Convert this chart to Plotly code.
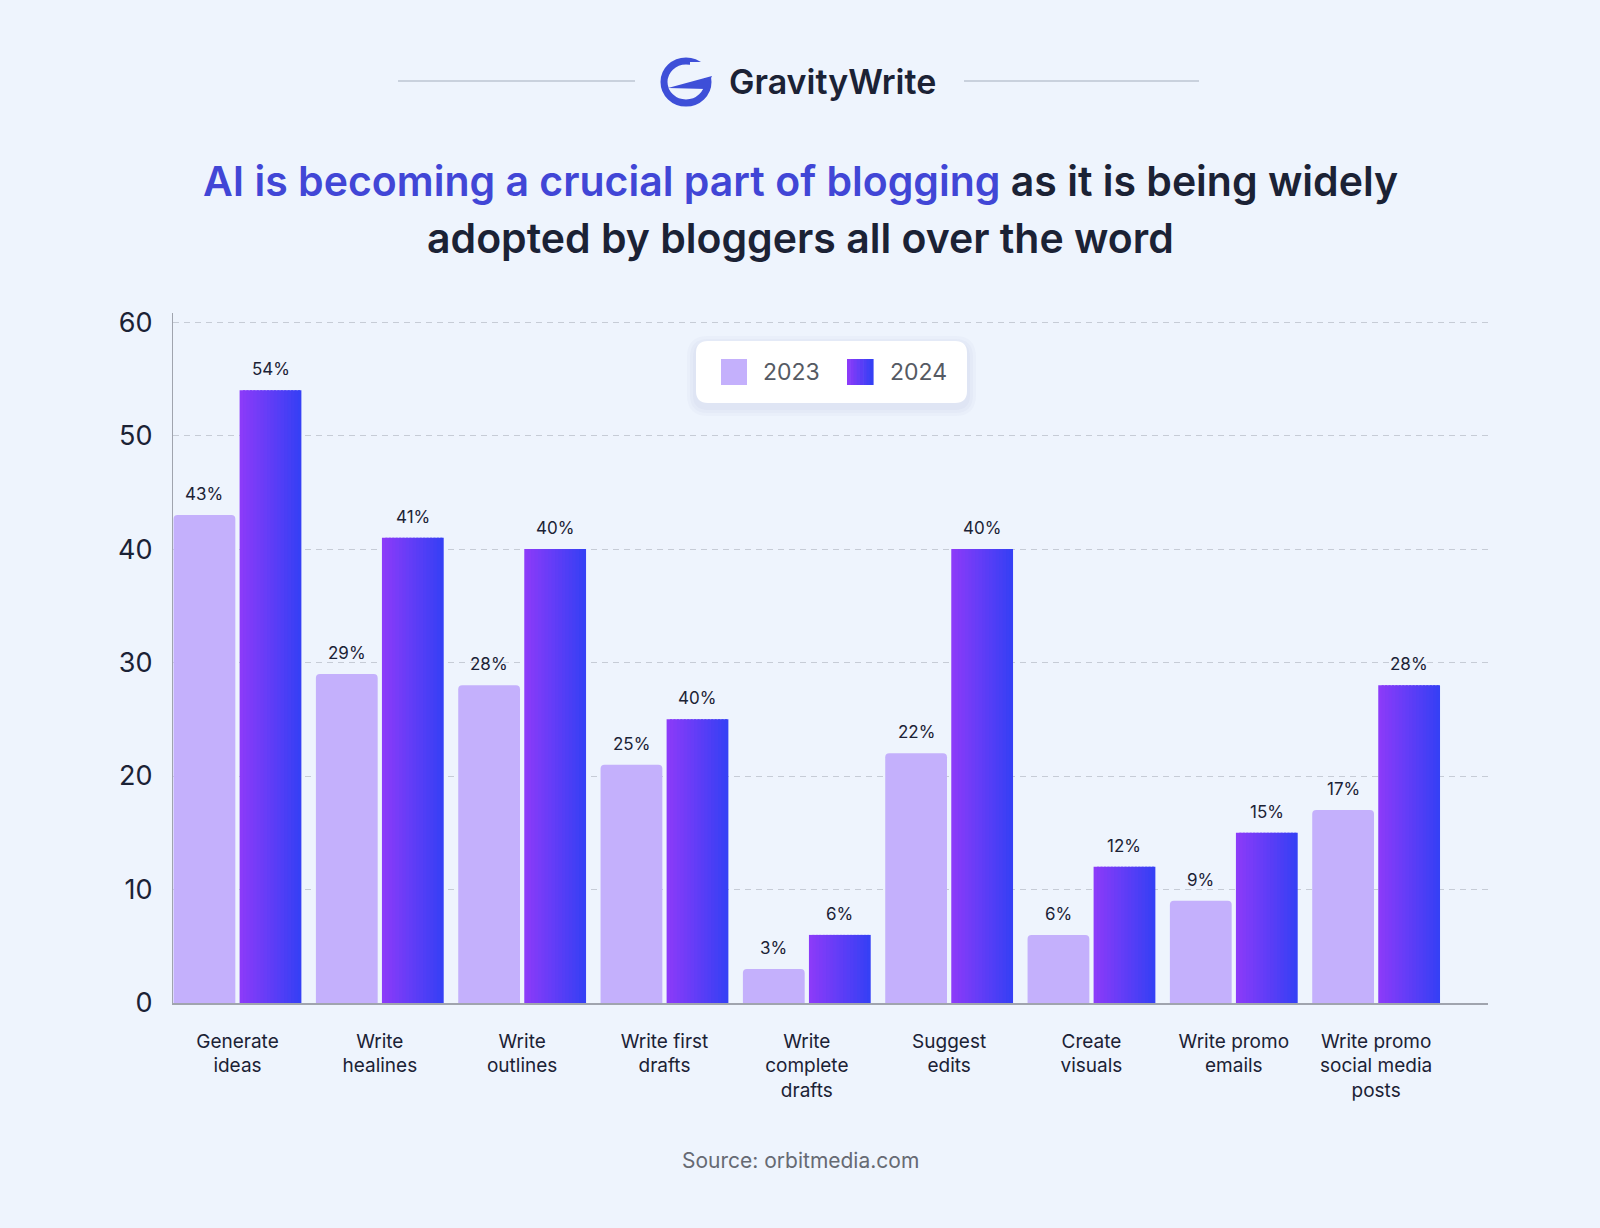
import numpy as np
import plotly.graph_objects as go

# data
categories = [
    "Generate<br>ideas",
    "Write<br>healines",
    "Write<br>outlines",
    "Write first<br>drafts",
    "Write<br>complete<br>drafts",
    "Suggest<br>edits",
    "Create<br>visuals",
    "Write promo<br>emails",
    "Write promo<br>social media<br>posts",
]
values_2023 = [43, 29, 28, 21, 3, 22, 6, 9, 17]
values_2024 = [54, 41, 40, 25, 6, 40, 12, 15, 28]
labels_2023 = ["43%", "29%", "28%", "25%", "3%", "22%", "6%", "9%", "17%"]
labels_2024 = ["54%", "41%", "40%", "40%", "6%", "40%", "12%", "15%", "28%"]
y_ticks = [0, 10, 20, 30, 40, 50, 60]
series_names = ["2023", "2024"]

W, H = 1600, 1228
L, R, T, B = 173, 112, 313, 225
BG = "#eef4fd"
DARK = "#1b2235"
LIGHT = "#c4b0fc"
GRAD_L = np.array([0x8b, 0x3b, 0xf9])
GRAD_R = np.array([0x36, 0x40, 0xf5])
FONT = "Inter"


def px(x):
    return (x - L) / (W - L - R)


def py(y):
    return (H - B - y) / (H - T - B)


def grad(t):
    c = (GRAD_L + (GRAD_R - GRAD_L) * t).astype(int)
    return "rgb(%d,%d,%d)" % tuple(c)


idx = np.arange(len(categories))
bw = 0.434
off23 = -0.449
off24 = 0.015

fig = go.Figure()
fig.add_trace(go.Bar(
    x=idx, y=values_2023, name=series_names[0], offset=off23, width=bw,
    marker=dict(color=LIGHT, cornerradius=4, line_width=0), showlegend=False,
))

# 2024 bars: vertical strips to fake the left-to-right gradient
n_strips = 18
sw = bw / n_strips
for k in range(n_strips):
    fig.add_trace(go.Bar(
        x=idx, y=values_2024, name=series_names[1],
        offset=off24 + k * sw, width=sw * (1.6 if k < n_strips - 1 else 1.0),
        marker=dict(color=grad(k / (n_strips - 1)), line_width=0),
        showlegend=False, hoverinfo="skip" if k else None,
    ))

# value labels above bars
annotations = []
for i in idx:
    for val, lab, off in [(values_2023[i], labels_2023[i], off23), (values_2024[i], labels_2024[i], off24)]:
        annotations.append(dict(
            x=i + off + bw / 2, y=val, xref="x", yref="y", text=lab, showarrow=False,
            yshift=21, yanchor="middle", font=dict(family=FONT, size=17, color=DARK),
        ))

# title
annotations.append(dict(
    x=px(800), y=py(181), xref="paper", yref="paper", showarrow=False, yanchor="middle",
    text="<span style='color:#4146d6'>AI is becoming a crucial part of blogging</span> as it is being widely",
    font=dict(family=FONT, size=41, color=DARK, weight=600),
))
annotations.append(dict(
    x=px(800), y=py(238), xref="paper", yref="paper", showarrow=False, yanchor="middle",
    text="adopted by bloggers all over the word",
    font=dict(family=FONT, size=41, color=DARK, weight=600),
))
# brand name
annotations.append(dict(
    x=px(727), y=py(82), xref="paper", yref="paper", showarrow=False,
    xanchor="left", yanchor="middle", text="GravityWrite",
    font=dict(family=FONT, size=34, color=DARK, weight=600),
))
# source
annotations.append(dict(
    x=px(800), y=py(1160), xref="paper", yref="paper", showarrow=False, yanchor="middle",
    text="Source: orbitmedia.com", font=dict(family=FONT, size=21, color="#666a73"),
))
# legend labels
for xl, name in [(761, series_names[0]), (888, series_names[1])]:
    annotations.append(dict(
        x=px(xl), y=py(372), xref="paper", yref="paper", showarrow=False,
        xanchor="left", yanchor="middle", text=name,
        font=dict(family=FONT, size=23, color="#555a63"),
    ))


def rrect(x0, y0, x1, y1, r):
    a, b, c, d = px(x0), px(x1), py(y0), py(y1)
    rx, ry = r / (W - L - R), r / (H - T - B)
    return (f"M {a+rx},{c} L {b-rx},{c} Q {b},{c} {b},{c-ry} L {b},{d+ry} Q {b},{d} {b-rx},{d} "
            f"L {a+rx},{d} Q {a},{d} {a},{d+ry} L {a},{c-ry} Q {a},{c} {a+rx},{c} Z")


shapes = []
# rule lines beside the logo
shapes.append(dict(type="line", xref="paper", yref="paper", x0=px(398), x1=px(635), y0=py(81), y1=py(81),
                   line=dict(color="#a3adbd", width=1.2)))
shapes.append(dict(type="line", xref="paper", yref="paper", x0=px(964), x1=px(1199), y0=py(81), y1=py(81),
                   line=dict(color="#a3adbd", width=1.2)))
# logo mark
shapes.append(dict(type="circle", xref="paper", yref="paper", x0=px(664), x1=px(708), y0=py(61), y1=py(103),
                   line=dict(color="#3e4fd8", width=7)))
shapes.append(dict(type="rect", xref="paper", yref="paper", x0=px(690), x1=px(714), y0=py(62), y1=py(78),
                   fillcolor=BG, line_width=0))
shapes.append(dict(type="path", xref="paper", yref="paper",
                   path=f"M {px(668)},{py(88)} L {px(712)},{py(76)} L {px(706)},{py(89)} Z",
                   fillcolor="#3e4fd8", line_width=0))
# legend box with soft shadow
for g in (9, 6, 3):
    shapes.append(dict(type="path", xref="paper", yref="paper",
                       path=rrect(696 - g, 341 - g + 4, 967 + g, 403 + g + 4, 12 + g),
                       fillcolor="rgba(110,120,160,0.035)", line_width=0, layer="above"))
shapes.append(dict(type="path", xref="paper", yref="paper", path=rrect(696, 341, 967, 403, 12),
                   fillcolor="white", line_width=0, layer="above"))
shapes.append(dict(type="rect", xref="paper", yref="paper", x0=px(721), x1=px(747), y0=py(359), y1=py(385),
                   fillcolor=LIGHT, line_width=0, layer="above"))
n_sw = 8
for k in range(n_sw):
    x0 = 847 + k * 26 / n_sw
    shapes.append(dict(type="rect", xref="paper", yref="paper", x0=px(x0), x1=px(x0 + 26 / n_sw + 0.6),
                       y0=py(359), y1=py(385), fillcolor=grad(k / (n_sw - 1)), line_width=0, layer="above"))

fig.update_layout(
    width=W, height=H,
    margin=dict(l=L, r=R, t=T, b=B, autoexpand=False),
    paper_bgcolor=BG, plot_bgcolor=BG,
    barmode="overlay", showlegend=False,
    annotations=annotations, shapes=shapes,
    font=dict(family=FONT, color=DARK),
)
fig.update_xaxes(
    range=[-0.453, 8.786], tickvals=idx, ticktext=categories, showgrid=False, zeroline=False,
    showline=True, linecolor="#a0a4ae", linewidth=1.5, ticks="", ticklabelstandoff=20,
    tickfont=dict(family=FONT, size=19, color=DARK),
)
fig.update_yaxes(
    range=[0, 60.8], tickvals=y_ticks, showgrid=True, gridcolor="#c6ccd6", griddash="6px,5px", gridwidth=1,
    zeroline=False, showline=True, linecolor="#a0a4ae", linewidth=1.2, ticks="", ticklabelstandoff=14,
    tickfont=dict(family=FONT, size=27, color=DARK),
)

fig.write_html(
    "out.html",
    config={"displayModeBar": False},
    post_script="document.body.style.margin='0';document.body.style.background='%s';" % BG,
)
